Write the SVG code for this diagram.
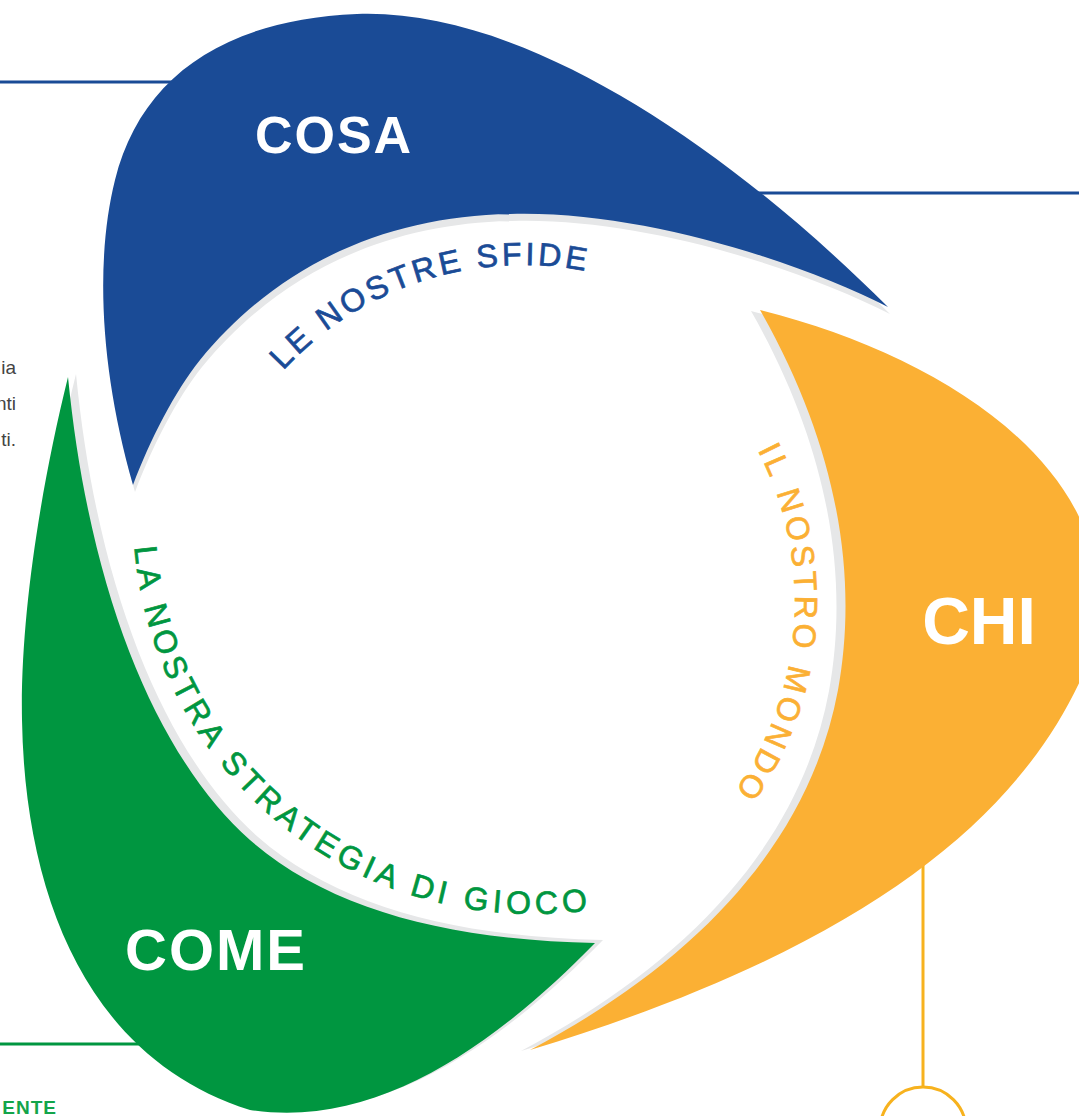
<svg xmlns="http://www.w3.org/2000/svg" width="1079" height="1116" viewBox="0 0 1079 1116">
<defs>
<style>
.big{font-family:"Liberation Sans",Arial,sans-serif;font-weight:700;fill:#ffffff;text-anchor:middle}
.arc{font-family:"Liberation Sans",Arial,sans-serif;font-size:32px;stroke-width:0.7px}
.shadow{fill:#e6e7e8}
.side{font-family:"Liberation Sans",Arial,sans-serif;font-size:19px;fill:#444444;text-anchor:end}
</style>
<path id="arcBlue" d="M256.8,403.6 A325,325 0 0 1 634.2,284.6" fill="none"/>
<path id="arcYellow" d="M718.3,391.2 A328,328 0 0 1 698.9,833.9" fill="none"/>
<path id="arcGreen" d="M134.5,479.1 A400,400 0 0 0 636.5,900.4" fill="none"/>
</defs>
<rect width="1079" height="1116" fill="#ffffff"/>
<g id="connectors" fill="none" stroke-width="3">
<line x1="0" y1="82" x2="200" y2="82" stroke="#1a4b96"/>
<line x1="740" y1="193" x2="1079" y2="193" stroke="#1a4b96"/>
<line x1="0" y1="1044" x2="140" y2="1044" stroke="#009640"/>
<line x1="923" y1="820" x2="923" y2="1087" stroke="#f7b21e"/>
<circle cx="923" cy="1130" r="43" stroke="#f7b21e"/>
</g>
<g id="side-text">
<text class="side" x="16" y="374">ia</text>
<text class="side" x="16" y="410">nti</text>
<text class="side" x="16" y="446">ti.</text>
<text x="57" y="1114" font-family="'Liberation Sans',Arial,sans-serif" font-size="19" font-weight="700" fill="#13a54a" text-anchor="end" letter-spacing="1">ENTE</text>
</g>
<g id="node-cosa">
<path class="shadow" transform="translate(2,7)" d="M133,485 C100,370 95,260 115,180 C140,80 220,20 357,14 C520,8 720,140 888,307 C800,262 640,210 510,214 C390,216 280,262 200,360 C175,391 150,440 133,485 Z"/>
<path fill="#1a4b96" d="M133,485 C100,370 95,260 115,180 C140,80 220,20 357,14 C520,8 720,140 888,307 C800,262 640,210 510,214 C390,216 280,262 200,360 C175,391 150,440 133,485 Z"/>
<text class="big" x="334" y="153" font-size="52" letter-spacing="2">COSA</text>
<text class="arc" fill="#1a4b96" stroke="#1a4b96" letter-spacing="3.4"><textPath href="#arcBlue" startOffset="42">LE NOSTRE SFIDE</textPath></text>
</g>
<g id="node-chi">
<path class="shadow" transform="translate(-9,1)" d="M760,310 C900,345 1040,420 1085,530 L1085,670 C1020,820 860,950 530,1050 C700,960 810,840 838,690 C858,580 840,450 760,310 Z"/>
<path fill="#fbb034" d="M760,310 C900,345 1040,420 1085,530 L1085,670 C1020,820 860,950 530,1050 C700,960 810,840 838,690 C858,580 840,450 760,310 Z"/>
<text class="big" x="979" y="644" font-size="66">CHI</text>
<text class="arc" fill="#fbb034" stroke="#fbb034" letter-spacing="4"><textPath href="#arcYellow" startOffset="71">IL NOSTRO MONDO</textPath></text>
</g>
<g id="node-come">
<path class="shadow" transform="translate(8,-3)" d="M68,377 C40,490 20,620 22,720 C25,900 90,1060 250,1110 C380,1130 500,1040 595,943 C450,940 330,910 250,840 C160,760 90,600 68,377 Z"/>
<path fill="#009640" d="M68,377 C40,490 20,620 22,720 C25,900 90,1060 250,1110 C380,1130 500,1040 595,943 C450,940 330,910 250,840 C160,760 90,600 68,377 Z"/>
<text class="big" x="216" y="970" font-size="58" letter-spacing="2">COME</text>
<text class="arc" fill="#009640" stroke="#009640" letter-spacing="4.8"><textPath href="#arcGreen" startOffset="68">LA NOSTRA STRATEGIA DI GIOCO</textPath></text>
</g>
</svg>
